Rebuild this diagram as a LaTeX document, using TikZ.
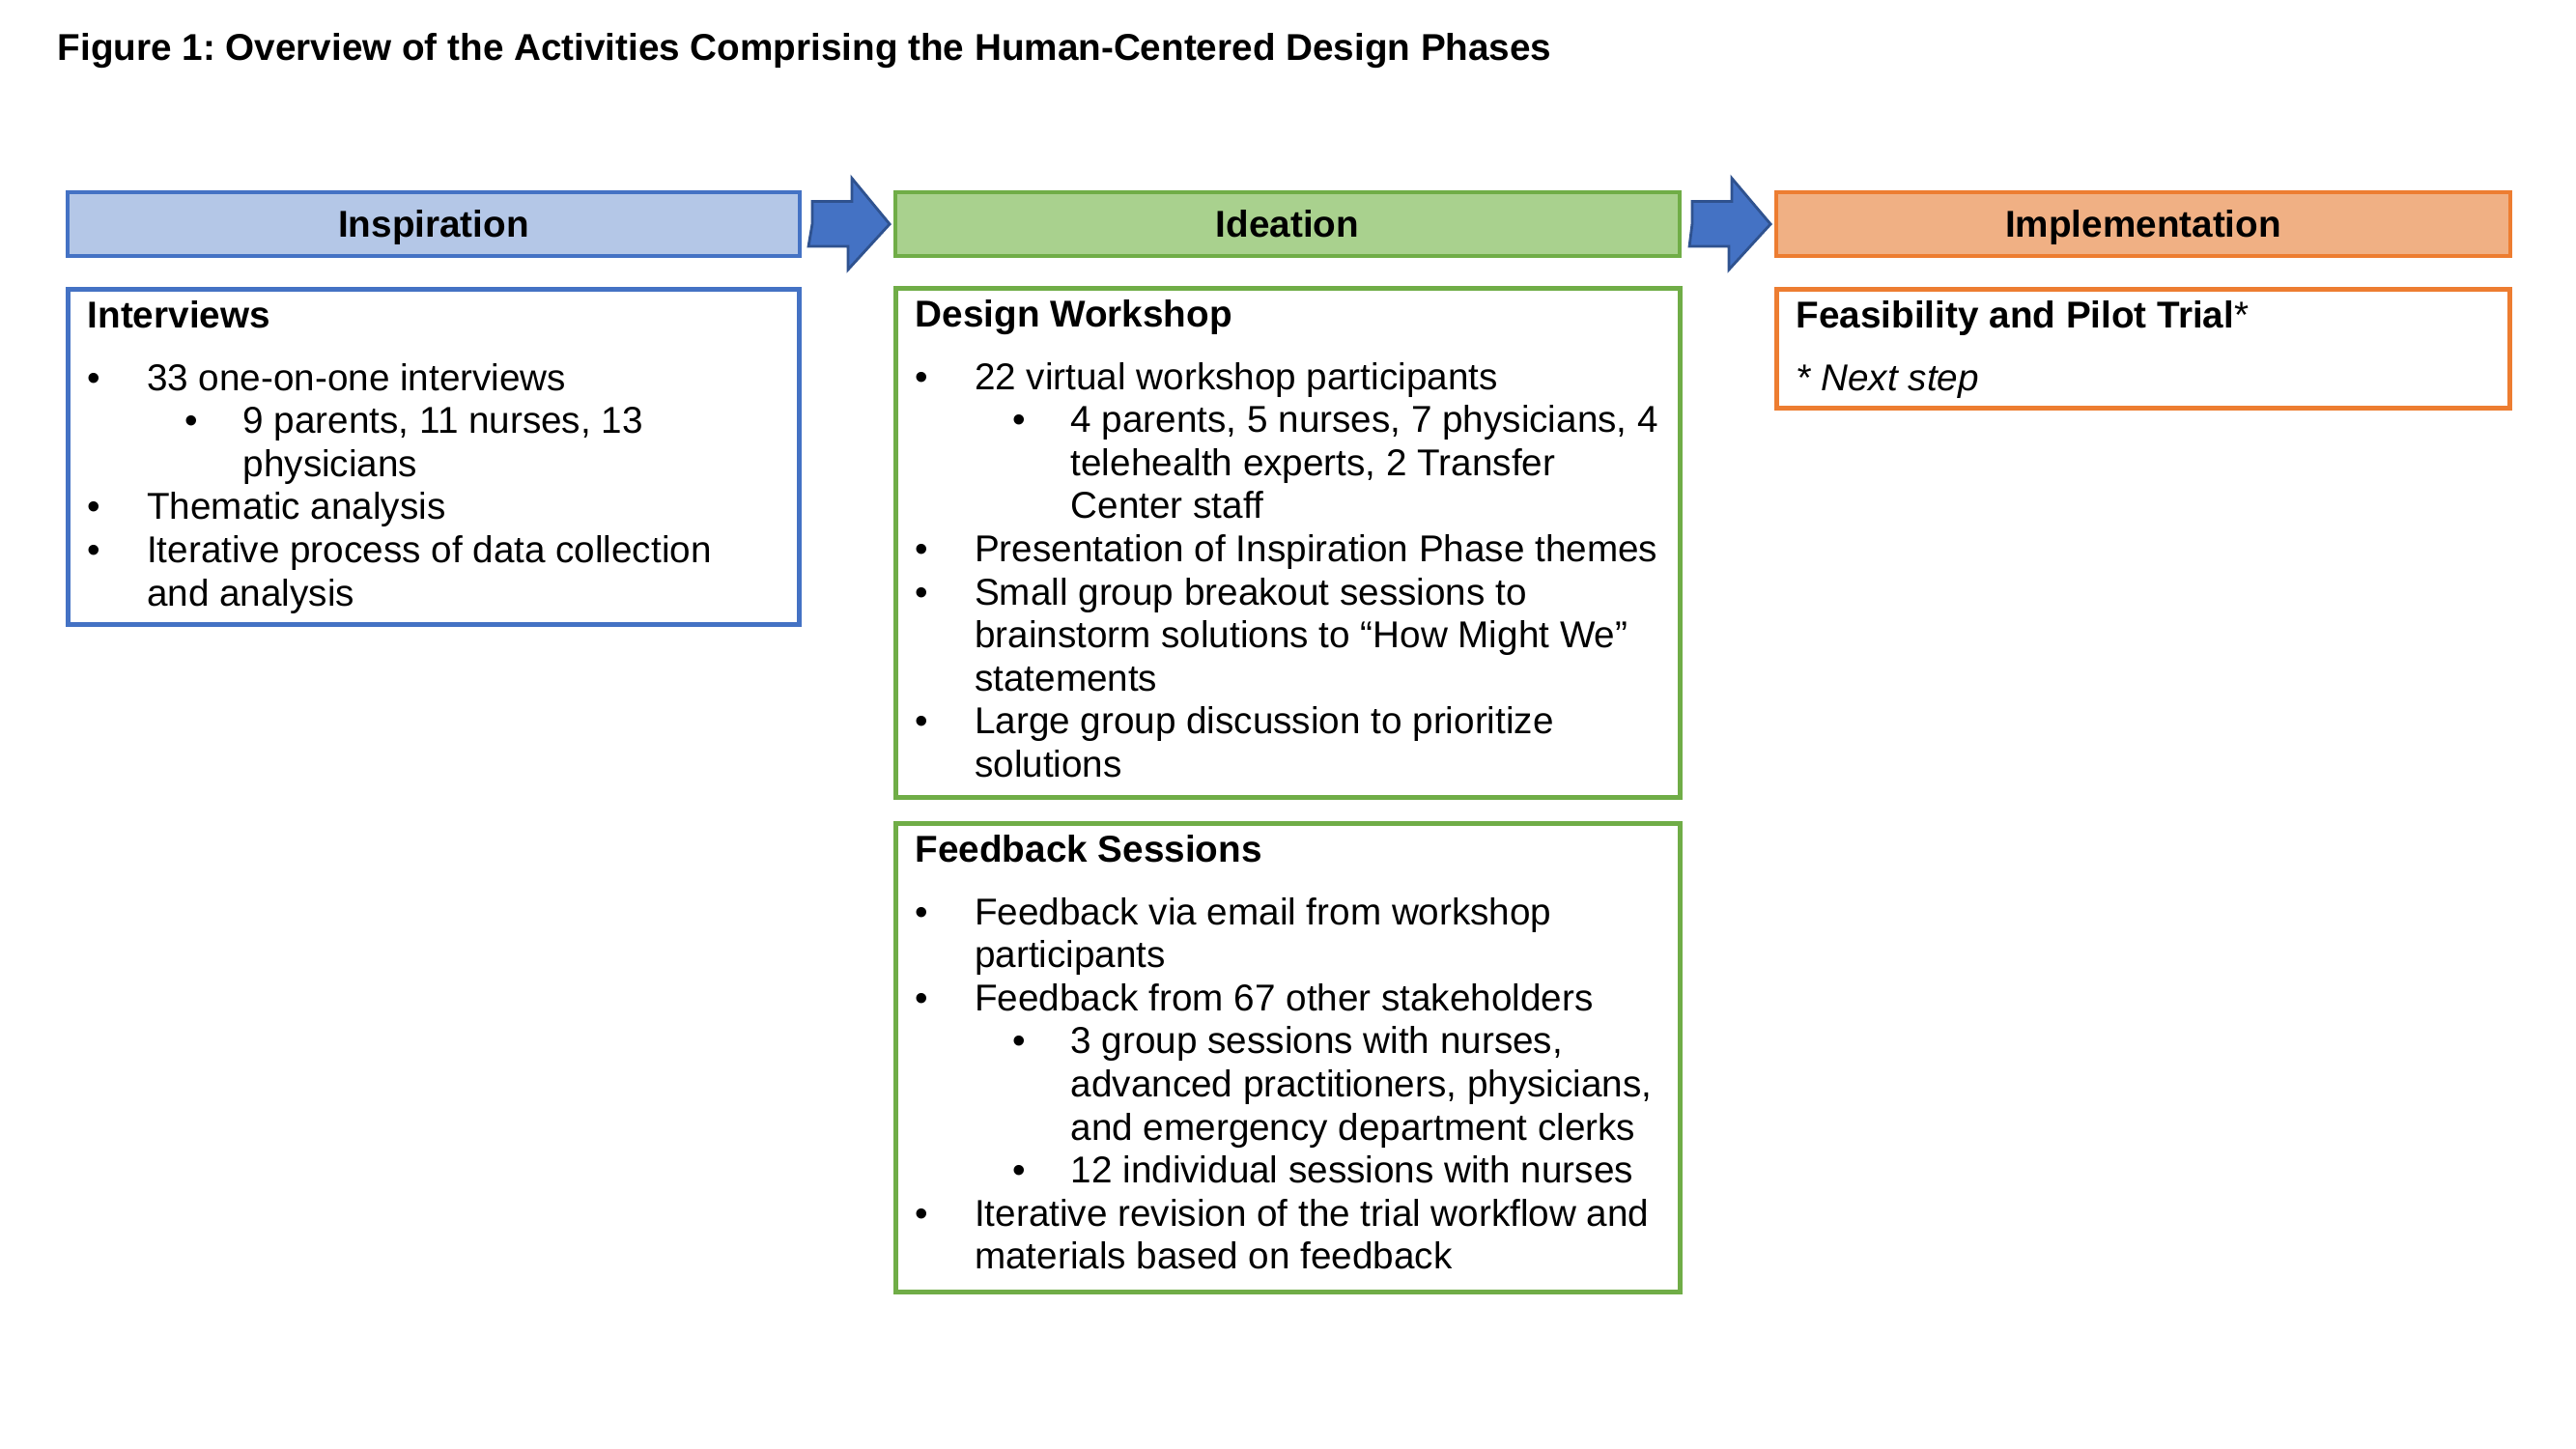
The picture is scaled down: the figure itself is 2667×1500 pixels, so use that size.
\documentclass[tikz,border=0pt]{standalone}
\usepackage{fontspec}
\setmainfont{Liberation Sans}
\frenchspacing

\definecolor{insfill}{HTML}{B4C7E7}
\definecolor{insline}{HTML}{4472C4}
\definecolor{idefill}{HTML}{A9D18E}
\definecolor{ideline}{HTML}{70AD47}
\definecolor{impfill}{HTML}{F0B084}
\definecolor{impline}{HTML}{ED7D31}
\definecolor{arrfill}{HTML}{4472C4}
\definecolor{arrline}{HTML}{2F528F}

\newcommand{\diagfont}{\fontsize{11}{12.69}\selectfont}
\newcommand{\itembul}{\makebox[6.15mm][l]{\textbullet}}
\newcommand{\subbul}{\hspace*{10.1mm}\makebox[6mm][l]{\textbullet}}
\newcommand{\itemcont}{\hspace*{6.15mm}}
\newcommand{\subcont}{\hspace*{16.1mm}}

\begin{document}
\begin{tikzpicture}[x=0.1mm,y=-0.1mm,
        phase/.style={draw,line width=1.1pt,minimum height=6.6mm,inner sep=0,text height=7.9pt,text depth=0pt,font=\diagfont\bfseries},
        listbox/.style={draw,line width=1.55pt,inner sep=0},
        listtext/.style={anchor=north west,inner sep=0,align=left,font=\diagfont},
        flowarrow/.style={fill=arrfill,draw=arrline,line width=0.8pt,line join=miter}]
    \useasboundingbox[fill=white] (0,0) rectangle (2667,1500);
    \node[anchor=base west,inner sep=0,font=\diagfont\bfseries] (title) at (59,63) {Figure 1: Overview of the Activities Comprising the Human-Centered Design Phases};
    % phase headers
    \node[phase,fill=insfill,draw=insline,minimum width=75.8mm] (insp) at (449,232) {Inspiration};
    \node[phase,fill=idefill,draw=ideline,minimum width=81.2mm] (idea) at (1333,232) {Ideation};
    \node[phase,fill=impfill,draw=impline,minimum width=76mm] (impl) at (2219,232) {Implementation};
    % block arrows between phases
    \draw[flowarrow] ([xshift=1.1mm]insp.east) -- ++(0,-23.5) -- ++(41,0) -- ++(0,-24) -- ([xshift=-0.4mm]idea.west) -- ++(-43,47) -- ++(0,-24) -- ++(-41,0) -- cycle;
    \draw[flowarrow] ([xshift=1.1mm]idea.east) -- ++(0,-23.5) -- ++(41,0) -- ++(0,-24) -- ([xshift=-0.4mm]impl.west) -- ++(-43,47) -- ++(0,-24) -- ++(-41,0) -- cycle;
    % activity boxes
    \node[listbox,draw=insline,minimum width=75.65mm,minimum height=34.65mm] (intv) at (449,473) {};
    \node[listtext] (intvtxt) at ([shift={(22,10.5)}]intv.north west) {\strut\textbf{Interviews}\\[5.7pt]
        \itembul 33 one-on-one interviews\\
        \subbul 9 parents, 11 nurses, 13\\
        \subcont physicians\\
        \itembul Thematic analysis\\
        \itembul Iterative process of data collection\\
        \itemcont and analysis};
    \node[listbox,draw=ideline,minimum width=81.15mm,minimum height=52.65mm] (dsgn) at (1333.5,562) {};
    \node[listtext] (dsgntxt) at ([shift={(22,10.5)}]dsgn.north west) {\strut\textbf{Design Workshop}\\[5.7pt]
        \itembul 22 virtual workshop participants\\
        \subbul 4 parents, 5 nurses, 7 physicians, 4\\
        \subcont telehealth experts, 2 Transfer\\
        \subcont Center staff\\
        \itembul Presentation of Inspiration Phase themes\\
        \itembul Small group breakout sessions to\\
        \itemcont brainstorm solutions to “How Might We”\\
        \itemcont statements\\
        \itembul Large group discussion to prioritize\\
        \itemcont solutions};
    \node[listbox,draw=ideline,minimum width=81.15mm,minimum height=48.45mm] (fdbk) at (1333.5,1095) {};
    \node[listtext] (fdbktxt) at ([shift={(22,10.5)}]fdbk.north west) {\strut\textbf{Feedback Sessions}\\[5.7pt]
        \itembul Feedback via email from workshop\\
        \itemcont participants\\
        \itembul Feedback from 67 other stakeholders\\
        \subbul 3 group sessions with nurses,\\
        \subcont advanced practitioners, physicians,\\
        \subcont and emergency department clerks\\
        \subbul 12 individual sessions with nurses\\
        \itembul Iterative revision of the trial workflow and\\
        \itemcont materials based on feedback};
    \node[listbox,draw=impline,minimum width=75.85mm,minimum height=12.25mm] (feas) at (2219,361) {};
    \node[listtext] (feastxt) at ([shift={(22,10.5)}]feas.north west) {\strut\textbf{Feasibility and Pilot Trial}*\\[5.7pt]
        \textit{* Next step}};
\end{tikzpicture}
\end{document}
